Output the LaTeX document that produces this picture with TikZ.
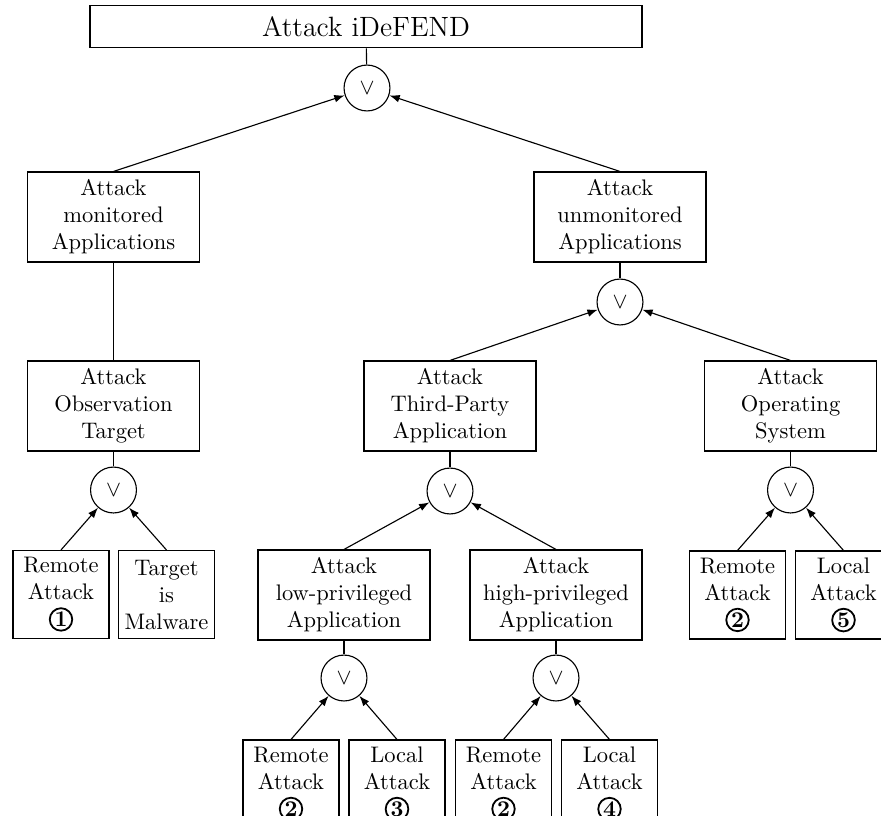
\documentclass[tikz,border=0pt]{standalone}
\usetikzlibrary{arrows.meta}
\newcommand{\cnum}[1]{\tikz[baseline=(X.base)]\node[draw,circle,inner sep=0.45pt,minimum size=0pt,line width=0.8pt,font=\bfseries,align=center](X){#1};}
\tikzset{
  bigbox/.style={draw,line width=0.5pt,rectangle,align=center,minimum width=76.4pt,minimum height=40pt,inner sep=1pt},
  smallbox/.style={draw,line width=0.5pt,rectangle,align=center,minimum width=42.7pt,minimum height=39.1pt,inner sep=1pt},
  titlebox/.style={draw,line width=0.5pt,rectangle,minimum width=245.3pt,minimum height=19pt,font=\fontsize{12.4}{15}\selectfont},
  orgate/.style={draw,line width=0.5pt,circle,minimum size=20.4pt,inner sep=0pt},
  arr/.style={line width=0.5pt,-{Latex[length=4.6pt,width=3.4pt]}},
  plain/.style={line width=0.5pt}
}
\begin{document}
\begin{tikzpicture}[x=0.4444pt,y=-0.4444pt]
\useasboundingbox (0,0) rectangle (881,825);
\clip (0,0) rectangle (881,815);
% top level
\node[titlebox] (root) at (366,26.5) {Attack iDeFEND};
\node[orgate] (or0) at (367,88) {$\vee$};
\node[bigbox] (mon) at (113.5,217) {Attack\\monitored\\Applications};
\node[bigbox] (unmon) at (620,217) {Attack\\unmonitored\\Applications};
\node[orgate] (or1) at (620,302) {$\vee$};
% second level
\node[bigbox] (obs) at (113.5,406) {Attack\\Observation\\Target};
\node[bigbox] (tp) at (450,406) {Attack\\Third-Party\\Application};
\node[bigbox] (os) at (790.5,406) {Attack\\Operating\\System};
\node[orgate] (or2) at (113.5,490) {$\vee$};
\node[orgate] (or3) at (450,491) {$\vee$};
\node[orgate] (or4) at (790.5,490) {$\vee$};
% third level
\node[smallbox] (r1) at (61,594.5) {Remote\\Attack\\\cnum{1}};
\node[smallbox] (tm) at (166.5,594.5) {Target\\is\\Malware};
\node[bigbox] (low) at (344,595) {Attack\\low-privileged\\Application};
\node[bigbox] (high) at (556,595) {Attack\\high-privileged\\Application};
\node[smallbox] (r2os) at (737.5,595) {Remote\\Attack\\\cnum{2}};
\node[smallbox] (l5) at (843.5,595) {Local\\Attack\\\cnum{5}};
\node[orgate] (or5) at (344,678) {$\vee$};
\node[orgate] (or6) at (556,678) {$\vee$};
% bottom level
\node[smallbox] (b1) at (291,784) {Remote\\Attack\\\cnum{2}};
\node[smallbox] (b2) at (397,784) {Local\\Attack\\\cnum{3}};
\node[smallbox] (b3) at (503.5,784) {Remote\\Attack\\\cnum{2}};
\node[smallbox] (b4) at (609.5,784) {Local\\Attack\\\cnum{4}};
% connectors
\draw[plain] (root) -- (or0);
\draw[arr] (mon.north) -- (or0);
\draw[arr] (unmon.north) -- (or0);
\draw[plain] (mon) -- (obs);
\draw[plain] (unmon) -- (or1);
\draw[arr] (tp.north) -- (or1);
\draw[arr] (os.north) -- (or1);
\draw[plain] (obs) -- (or2);
\draw[plain] (tp) -- (or3);
\draw[plain] (os) -- (or4);
\draw[arr] (r1.north) -- (or2);
\draw[arr] (tm.north) -- (or2);
\draw[arr] (low.north) -- (or3);
\draw[arr] (high.north) -- (or3);
\draw[arr] (r2os.north) -- (or4);
\draw[arr] (l5.north) -- (or4);
\draw[plain] (low) -- (or5);
\draw[plain] (high) -- (or6);
\draw[arr] (b1.north) -- (or5);
\draw[arr] (b2.north) -- (or5);
\draw[arr] (b3.north) -- (or6);
\draw[arr] (b4.north) -- (or6);
\end{tikzpicture}
\end{document}
